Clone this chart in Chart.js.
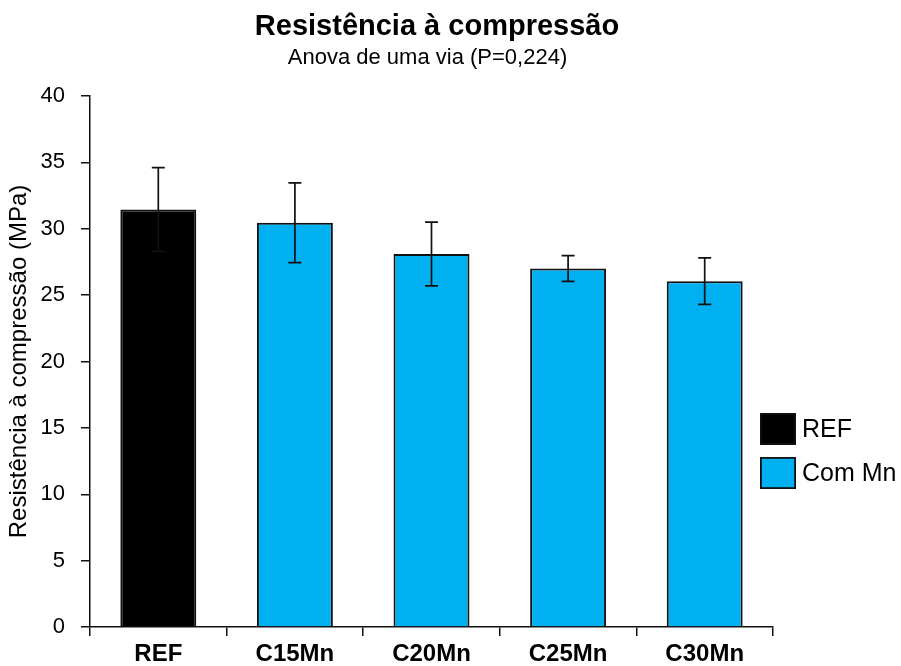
<!DOCTYPE html>
<html>
<head>
<meta charset="utf-8">
<script src="https://cdn.jsdelivr.net/npm/chart.js@4/dist/chart.umd.min.js"></script>
<style>
  html, body { margin: 0; padding: 0; background: #fff; }
  #wrap { width: 901px; height: 666px; position: relative; }
</style>
</head>
<body>
<div id="wrap"><canvas id="c" width="901" height="666"></canvas></div>
<script>
const categories = ['REF', 'C15Mn', 'C20Mn', 'C25Mn', 'C30Mn'];
const refValues = [31.45, null, null, null, null];
const mnValues = [null, 30.45, 28.1, 27.0, 26.05];
const refErrors = [3.15, null, null, null, null];
const mnErrors = [null, 3.0, 2.4, 0.97, 1.75];
const yTicks = [0, 5, 10, 15, 20, 25, 30, 35, 40];
const titleText = 'Resistência à compressão';
const subtitleText = 'Anova de uma via (P=0,224)';
const yTitleText = 'Resistência à compressão (MPa)';
const legendLabels = ['REF', 'Com Mn'];

const FONT = "'Liberation Sans', Arial, sans-serif";
const BLUE = '#00B0F0';
const INK = '#111111';

// re-centre the title blocks to where the reference has them
const titleCentres = {
  id: 'titleCentres',
  afterLayout(chart) {
    chart.boxes.forEach(b => {
      if (!b.options || typeof b.options.text !== 'string') return;
      let cx = null;
      if (b.options.text === titleText) cx = 437;
      if (b.options.text === subtitleText) cx = 427.5;
      if (cx === null) return;
      const w = b.right - b.left;
      b.left = cx - w / 2;
      b.right = cx + w / 2;
    });
  }
};

const errorBars = {
  id: 'errorBars',
  afterDatasetsDraw(chart) {
    const ctx = chart.ctx;
    const y = chart.scales.y;
    const errSets = [refErrors, mnErrors];
    ctx.save();
    ctx.strokeStyle = INK;
    ctx.lineWidth = 1.7;
    chart.data.datasets.forEach((ds, di) => {
      const meta = chart.getDatasetMeta(di);
      meta.data.forEach((bar, i) => {
        const v = ds.data[i];
        const e = errSets[di][i];
        if (v == null || e == null) return;
        const x = bar.x;
        const yt = y.getPixelForValue(v + e);
        const yb = y.getPixelForValue(v - e);
        const hw = 6.5;
        ctx.beginPath();
        ctx.moveTo(x, yt); ctx.lineTo(x, yb);
        ctx.moveTo(x - hw, yt); ctx.lineTo(x + hw, yt);
        ctx.moveTo(x - hw, yb); ctx.lineTo(x + hw, yb);
        ctx.stroke();
      });
    });
    ctx.restore();
  }
};

const customLegend = {
  id: 'customLegend',
  afterDraw(chart) {
    const ctx = chart.ctx;
    const items = chart.data.datasets;
    const x0 = 760, bw = 36, bh = 32;
    const ys = [413, 457];
    ctx.save();
    items.forEach((ds, i) => {
      const yy = ys[i];
      ctx.fillStyle = ds.backgroundColor;
      ctx.fillRect(x0, yy, bw, bh);
      ctx.strokeStyle = INK;
      ctx.lineWidth = 1.8;
      ctx.strokeRect(x0 + 0.9, yy + 0.9, bw - 1.8, bh - 1.8);
      ctx.fillStyle = '#000';
      ctx.font = '25px ' + FONT;
      ctx.textBaseline = 'middle';
      ctx.textAlign = 'left';
      ctx.fillText(legendLabels[i], x0 + bw + 6, yy + bh / 2 + 1);
    });
    ctx.restore();
  }
};

new Chart(document.getElementById('c'), {
  type: 'bar',
  data: {
    labels: categories,
    datasets: [
      { label: legendLabels[0], data: refValues, backgroundColor: '#000000', borderColor: INK, borderWidth: 2 },
      { label: legendLabels[1], data: mnValues, backgroundColor: BLUE, borderColor: INK, borderWidth: 2 }
    ]
  },
  options: {
    responsive: false,
    animation: false,
    devicePixelRatio: 1,
    layout: { padding: { left: 0, right: 128, top: 0, bottom: 0 } },
    datasets: { bar: { categoryPercentage: 1.0, barPercentage: 0.556 } },
    plugins: {
      legend: { display: false },
      tooltip: { enabled: false },
      title: {
        display: true, text: titleText, fullSize: false, color: '#000',
        font: { family: FONT, size: 29, weight: 'bold', lineHeight: 1.2 },
        padding: { top: 9.3, bottom: 0 }
      },
      subtitle: {
        display: true, text: subtitleText, fullSize: false, color: '#000',
        font: { family: FONT, size: 22, weight: 'normal', lineHeight: 1.2 },
        padding: { top: 1.1, bottom: 24.4 }
      }
    },
    scales: {
      x: {
        stacked: true,
        afterFit(scale) { scale.height = 39; },
        grid: { display: true, drawOnChartArea: false, drawTicks: true, tickLength: 9, color: INK, lineWidth: 1.5, offset: true },
        border: { display: true, color: INK, width: 1.5 },
        ticks: { color: '#000', font: { family: FONT, size: 24, weight: 'bold' }, padding: 4, maxRotation: 0, autoSkip: false }
      },
      y: {
        stacked: false,
        min: 0, max: 40,
        afterFit(scale) { scale.width = 90; },
        afterBuildTicks(scale) { scale.ticks = yTicks.map(v => ({ value: v })); },
        grid: { display: true, drawOnChartArea: false, drawTicks: true, tickLength: 9, color: INK, lineWidth: 1.5 },
        border: { display: true, color: INK, width: 1.5 },
        ticks: { color: '#000', font: { family: FONT, size: 22 }, padding: 16 },
        title: {
          display: true, text: yTitleText, color: '#000',
          font: { family: FONT, size: 24 }, padding: { top: 5, bottom: 0 }
        }
      }
    }
  },
  plugins: [titleCentres, errorBars, customLegend]
});
</script>
</body>
</html>
